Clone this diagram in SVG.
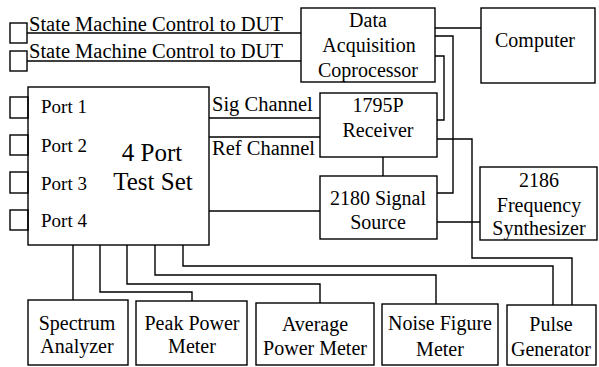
<svg xmlns="http://www.w3.org/2000/svg" width="599" height="367" viewBox="0 0 599 367">
<style>
  .box { fill: none; stroke: #000; stroke-width: 1.4; }
  .ln { fill: none; stroke: #000; stroke-width: 1.4; }
  text { font-family: "Liberation Serif", "Times New Roman", serif; font-size: 20px; fill: #000; }
  .c { text-anchor: middle; }
  .port { font-size: 19px; }
  .big { font-size: 25px; text-anchor: middle; }
  .lbl { font-size: 20.5px; }
</style>
<rect x="0" y="0" width="599" height="367" fill="#fff"/>

<g id="connectors">
  <!-- state machine control lines -->
  <path class="ln" d="M27,33 H301"/>
  <path class="ln" d="M27,61 H301"/>
  <!-- DAC to computer -->
  <path class="ln" d="M435,28 H481"/>
  <!-- DAC to source -->
  <path class="ln" d="M435,36 H453 V193 H437"/>
  <!-- DAC to receiver -->
  <path class="ln" d="M435,56 H444 V120 H437"/>
  <!-- Sig / Ref channel -->
  <path class="ln" d="M209,118 H320"/>
  <path class="ln" d="M209,137 H320"/>
  <!-- test set to source -->
  <path class="ln" d="M209,211 H320"/>
  <!-- receiver to source -->
  <path class="ln" d="M383,157 V176"/>
  <!-- source to synthesizer -->
  <path class="ln" d="M437,222 H480"/>
  <!-- receiver to pulse generator -->
  <path class="ln" d="M437,139 H472 V258 H572 V305"/>
  <!-- test set to bottom instruments -->
  <path class="ln" d="M73,245 V300"/>
  <path class="ln" d="M100,245 V292 H192 V301"/>
  <path class="ln" d="M127,245 V284 H320 V303"/>
  <path class="ln" d="M155,245 V275 H436 V304"/>
  <path class="ln" d="M183,245 V266 H553 V305"/>
  <text class="lbl" x="212" y="111">Sig Channel</text>
  <text class="lbl" x="212" y="155">Ref Channel</text>
  <text class="lbl" x="29" y="31">State Machine Control to DUT</text>
  <text class="lbl" x="29" y="58">State Machine Control to DUT</text>
</g>

<g id="dut1"><rect class="box" x="10" y="23" width="17" height="20"/></g>
<g id="dut2"><rect class="box" x="10" y="51" width="17" height="20"/></g>

<g id="testset">
  <rect class="box" x="28" y="87" width="181" height="158"/>
  <text class="big" x="152" y="161">4 Port</text>
  <text class="big" x="153" y="190">Test Set</text>
</g>
<g id="port1"><rect class="box" x="10" y="97" width="18" height="21"/><text class="port" x="41" y="113">Port 1</text></g>
<g id="port2"><rect class="box" x="10" y="135" width="18" height="20"/><text class="port" x="41" y="152">Port 2</text></g>
<g id="port3"><rect class="box" x="10" y="172" width="18" height="21"/><text class="port" x="41" y="190">Port 3</text></g>
<g id="port4"><rect class="box" x="10" y="210" width="18" height="20"/><text class="port" x="41" y="227">Port 4</text></g>

<g id="dac">
  <rect class="box" x="301" y="8" width="134" height="74"/>
  <text class="c" x="368" y="27">Data</text>
  <text class="c" x="369" y="52">Acquisition</text>
  <text class="c" x="368" y="77">Coprocessor</text>
</g>

<g id="computer">
  <rect class="box" x="481" y="8" width="114" height="75"/>
  <text class="c" x="535" y="47">Computer</text>
</g>

<g id="receiver">
  <rect class="box" x="320" y="93" width="117" height="64"/>
  <text class="c" x="378" y="112">1795P</text>
  <text class="c" x="378" y="137">Receiver</text>
</g>

<g id="source">
  <rect class="box" x="320" y="176" width="117" height="63"/>
  <text class="c" x="378" y="205">2180 Signal</text>
  <text class="c" x="378" y="229">Source</text>
</g>

<g id="synthesizer">
  <rect class="box" x="480" y="167" width="117" height="73"/>
  <text class="c" x="539" y="187">2186</text>
  <text class="c" x="539" y="212">Frequency</text>
  <text class="c" x="539" y="235">Synthesizer</text>
</g>

<g id="spectrum">
  <rect class="box" x="28" y="300" width="100" height="65"/>
  <text class="c" x="77" y="330">Spectrum</text>
  <text class="c" x="77" y="353">Analyzer</text>
</g>

<g id="peak">
  <rect class="box" x="136" y="301" width="111" height="64"/>
  <text class="c" x="192" y="330">Peak Power</text>
  <text class="c" x="192" y="353">Meter</text>
</g>

<g id="average">
  <rect class="box" x="256" y="303" width="118" height="62"/>
  <text class="c" x="315" y="331">Average</text>
  <text class="c" x="315" y="355">Power Meter</text>
</g>

<g id="noise">
  <rect class="box" x="382" y="304" width="116" height="61"/>
  <text class="c" x="440" y="330">Noise Figure</text>
  <text class="c" x="440" y="356">Meter</text>
</g>

<g id="pulse">
  <rect class="box" x="507" y="305" width="89" height="60"/>
  <text class="c" x="551" y="331">Pulse</text>
  <text class="c" x="551" y="356">Generator</text>
</g>
</svg>
